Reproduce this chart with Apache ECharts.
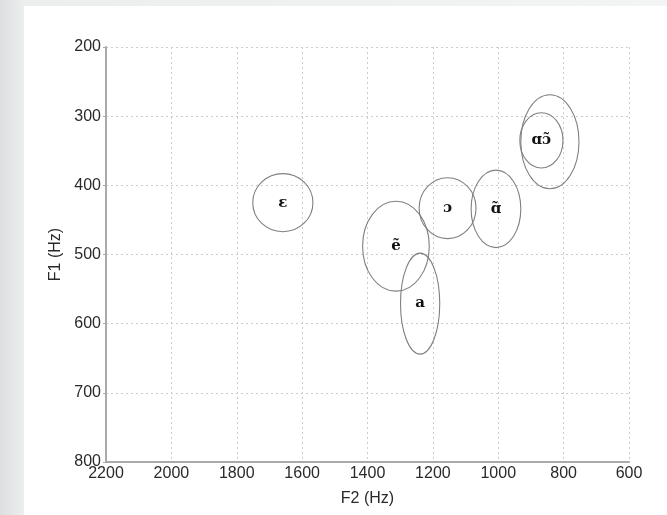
<!DOCTYPE html>
<html>
<head>
<meta charset="utf-8">
<script src="https://cdn.jsdelivr.net/npm/echarts@6/dist/echarts.min.js"></script>
<style>
  html, body { margin: 0; padding: 0; }
  body { width: 667px; height: 515px; background: linear-gradient(to right, #dde0e0 0px, #eceeee 24px, #f3f4f4 667px); position: relative; overflow: hidden; }
  #panel { position: absolute; left: 24px; top: 6px; width: 643px; height: 509px; background: #ffffff; }
  #chart { position: absolute; left: 0; top: 0; width: 667px; height: 515px; }
</style>
</head>
<body>
<div id="panel"></div>
<div id="chart"></div>
<script>
// Vowel labels
const vowels = ['ɛ', 'ẽ', 'a', 'ɔ', 'ɑ̃', '', 'ɑɔ̃'];
// Ellipse centres: F2 (Hz) and F1 (Hz)
const centerF2 = [1659, 1313, 1239, 1155, 1007, 842, 868];
const centerF1 = [425, 488, 571, 433, 434, 337, 335];
// Ellipse half-widths in Hz (F2 direction) and half-heights in Hz (F1 direction)
const radiusF2 = [92, 102, 60, 87, 76, 89, 66];
const radiusF1 = [42, 65, 73, 44, 56, 68, 40];
// Axis ticks
const xTicks = [2200, 2000, 1800, 1600, 1400, 1200, 1000, 800, 600];
const yTicks = [200, 300, 400, 500, 600, 700, 800];

const ellipseData = vowels.map((v, i) => [centerF2[i], centerF1[i], radiusF2[i], radiusF1[i], v]);

const chart = echarts.init(document.getElementById('chart'), null, { renderer: 'canvas' });

const textFont = 'Liberation Sans, Arial, sans-serif';
const axisLabelStyle = { color: '#2a2a2a', fontFamily: textFont, fontSize: 16 };

chart.setOption({
  backgroundColor: 'transparent',
  animation: false,
  grid: { left: 106, right: 38, top: 47, bottom: 53, containLabel: false },
  xAxis: {
    type: 'value',
    inverse: true,
    min: xTicks[xTicks.length - 1],
    max: xTicks[0],
    interval: 200,
    name: 'F2 (Hz)',
    nameLocation: 'middle',
    nameGap: 29,
    nameTextStyle: { color: '#2a2a2a', fontFamily: textFont, fontSize: 16 },
    axisLine: { show: true, onZero: false, lineStyle: { color: '#aaaaaa', width: 2 } },
    axisTick: { show: false },
    axisLabel: Object.assign({ margin: 4, formatter: v => String(v) }, axisLabelStyle),
    splitLine: { show: true, lineStyle: { color: '#cccccc', type: [2, 3], width: 1 } }
  },
  yAxis: {
    type: 'value',
    inverse: true,
    min: yTicks[0],
    max: yTicks[yTicks.length - 1],
    interval: 100,
    name: 'F1 (Hz)',
    nameLocation: 'middle',
    nameGap: 35,
    nameRotate: 90,
    nameTextStyle: { color: '#2a2a2a', fontFamily: textFont, fontSize: 16 },
    axisLine: { show: true, onZero: false, lineStyle: { color: '#aaaaaa', width: 2 } },
    axisTick: { show: true, length: 3, lineStyle: { color: '#aaaaaa' } },
    axisLabel: Object.assign({ margin: 5, formatter: v => String(v) }, axisLabelStyle),
    splitLine: { show: true, lineStyle: { color: '#cccccc', type: [2, 3], width: 1 } }
  },
  series: [{
    type: 'custom',
    data: ellipseData,
    clip: false,
    renderItem: function (params, api) {
      const c = api.coord([api.value(0), api.value(1)]);
      const s = api.size([api.value(2), api.value(3)]);
      const label = ellipseData[params.dataIndex][4];
      const children = [{
        type: 'ellipse',
        shape: { cx: c[0], cy: c[1], rx: s[0], ry: s[1] },
        style: { fill: 'none', stroke: '#808080', lineWidth: 1.1 }
      }];
      if (label) {
        children.push({
          type: 'text',
          style: {
            text: label, x: c[0], y: c[1], align: 'center', verticalAlign: 'middle',
            fill: '#111', font: 'bold 15px "DejaVu Serif", "Liberation Serif", serif'
          }
        });
      }
      return { type: 'group', children: children };
    }
  }]
});
</script>
</body>
</html>
